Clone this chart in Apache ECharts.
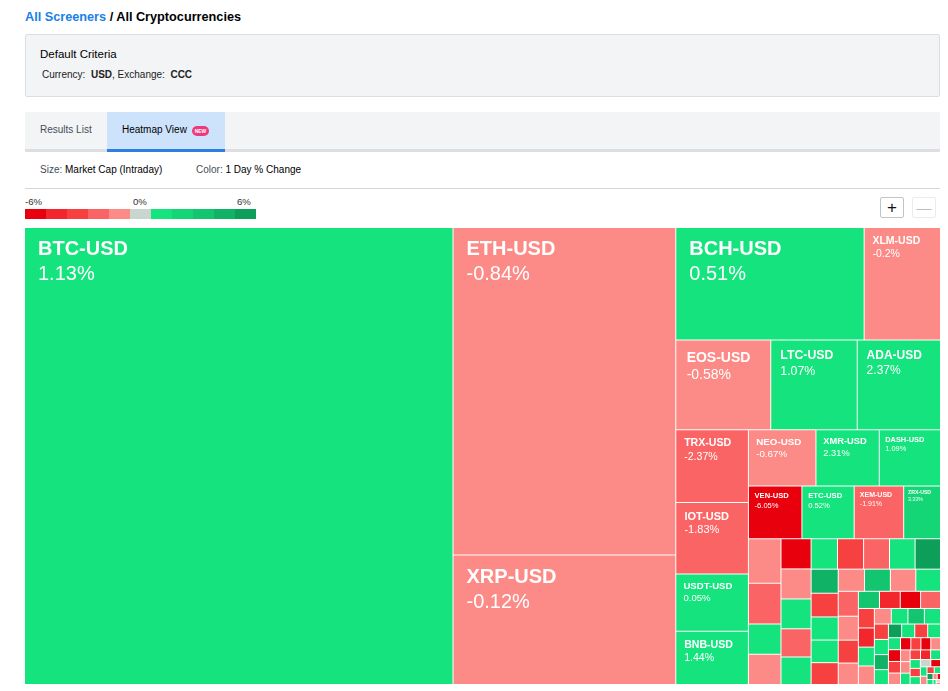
<!DOCTYPE html>
<html>
<head>
<meta charset="utf-8">
<script src="https://cdn.jsdelivr.net/npm/echarts@6/dist/echarts.min.js"></script>
<style>
  html, body { margin: 0; padding: 0; background: #fff; }
  body { width: 948px; height: 691px; position: relative; overflow: hidden;
         font-family: "Helvetica Neue", Helvetica, Arial, "Liberation Sans", sans-serif; color: #000; }
  .abs { position: absolute; white-space: nowrap; }
  #crumb { left: 25px; top: 10px; font-size: 12.7px; line-height: 15px; font-weight: bold; }
  #crumb .lnk { color: #1a7fe8; }
  #criteria { left: 25px; top: 34px; width: 915px; height: 63px; box-sizing: border-box;
              background: #f3f4f6; border: 1px solid #dcdee2; border-radius: 2px; }
  #critTitle { left: 40px; top: 47px; font-size: 11.5px; line-height: 14px; }
  #critLine { left: 42px; top: 69px; font-size: 10px; line-height: 12px; color: #222; }
  #tabs { left: 25px; top: 112px; width: 915px; height: 37px; background: #f3f4f6; }
  #tabLine { left: 25px; top: 149px; width: 915px; height: 3px; background: #dcdee3; }
  #tabActive { left: 107px; top: 112px; width: 118px; height: 37px; background: #cde3fb; }
  #tabActiveLine { left: 107px; top: 149px; width: 118px; height: 3px; background: #2f7fe0; }
  #tab1 { left: 40px; top: 124px; font-size: 10px; line-height: 12px; color: #464e56; }
  #tab2 { left: 122px; top: 124px; font-size: 10px; line-height: 12px; color: #000; }
  #badge { left: 192px; top: 126px; width: 17px; height: 10px; border-radius: 5px; background: #f0387e;
           color: #fff; font-size: 5px; font-weight: bold; line-height: 10px; text-align: center; }
  #sizeLbl { left: 40px; top: 164px; font-size: 10px; line-height: 12px; }
  #colorLbl { left: 196px; top: 164px; font-size: 10px; line-height: 12px; }
  .grey { color: #464e56; }
  #rule { left: 25px; top: 188px; width: 915px; height: 1px; background: #d6d6d6; }
  .tick { top: 196px; font-size: 9.6px; line-height: 11px; color: #333; }
  #bar { left: 25px; top: 209px; height: 10px; display: flex; }
  #bar div { width: 21px; height: 10px; }
  .btn { top: 197px; width: 24px; height: 21px; box-sizing: border-box; border-radius: 2px;
         text-align: center; line-height: 19px; }
  #plus { left: 880px; border: 1px solid #c4c4c4; font-size: 17px; color: #111; }
  #minus { left: 912px; border: 1px solid #ececec; font-size: 15px; color: #bdbdbd; }
  #chart { position: absolute; left: 25px; top: 228px; width: 915px; height: 456px; }
</style>
</head>
<body>
<div id="crumb" class="abs"><span class="lnk">All Screeners</span> / All Cryptocurrencies</div>
<div id="criteria" class="abs"></div>
<div id="critTitle" class="abs">Default Criteria</div>
<div id="critLine" class="abs">Currency:&nbsp; <b>USD</b>, Exchange:&nbsp; <b>CCC</b></div>
<div id="tabs" class="abs"></div>
<div id="tabLine" class="abs"></div>
<div id="tabActive" class="abs"></div>
<div id="tabActiveLine" class="abs"></div>
<div id="tab1" class="abs">Results List</div>
<div id="tab2" class="abs">Heatmap View</div>
<div id="badge" class="abs">NEW</div>
<div id="sizeLbl" class="abs"><span class="grey">Size:</span> Market Cap (Intraday)</div>
<div id="colorLbl" class="abs"><span class="grey">Color:</span> 1 Day % Change</div>
<div id="rule" class="abs"></div>
<div id="ticks"></div>
<div id="bar" class="abs"></div>
<div id="plus" class="abs btn">+</div>
<div id="minus" class="abs btn">&#8212;</div>
<div id="chart"></div>

<script>
// ---------------- data ----------------
const names = [
  "BTC-USD","ETH-USD","XRP-USD","BCH-USD","XLM-USD","EOS-USD","LTC-USD","ADA-USD",
  "TRX-USD","IOT-USD","USDT-USD","BNB-USD","NEO-USD","XMR-USD","DASH-USD",
  "VEN-USD","ETC-USD","XEM-USD","ZRX-USD",
  "QTUM-USD","OMG-USD","ICX-USD","LSK-USD",
  "ZEC-USD","BTG-USD","BTM-USD","ONT-USD","WAN-USD",
  "DCR-USD","BCN-USD","XVG-USD","SC-USD","STEEM-USD",
  "BTS-USD","NANO-USD","BCD-USD","PPT-USD","WAVES-USD",
  "DOGE-USD","STRAT-USD","SNT-USD","AE-USD",
  "MKR-USD","ZIL-USD","DGB-USD","KMD-USD",
  "ARDR-USD","GNT-USD","WTC-USD","REP-USD",
  "AION-USD","IOST-USD","ELF-USD","LRC-USD",
  "ARK-USD","PIVX-USD","DGD-USD","BAT-USD",
  "GAS-USD","KCS-USD","GXS-USD","SYS-USD",
  "FUN-USD","NAS-USD","ETN-USD","MONA-USD",
  "DRGN-USD","LOOM-USD","ELA-USD","NXT-USD",
  "POWR-USD","QASH-USD","ENG-USD","XZC-USD",
  "GTO-USD","FCT-USD","NEBL-USD",
  "SALT-USD","VERI-USD","CND-USD","KNC-USD","ICN-USD","GBYTE-USD","SUB-USD",
  "MANA-USD","RDD-USD","BNT-USD","STORM-USD","CVC-USD","NULS-USD","PAY-USD",
  "ZCL-USD","EMC-USD","BLOCK-USD","NXS-USD","VTC-USD","XP-USD","GNO-USD",
  "SMART-USD","ACT-USD","PART-USD","DENT-USD","SRN-USD"
];
// market capitalisation, USD millions
const marketCap = [
  194954, 72646, 28703, 21111, 8560, 8480, 7723, 7435,
  5256, 5169, 4133, 3857, 3780, 3545, 3427,
  2809, 2741, 2599, 1932,
  1446, 1316, 985, 980,
  905, 900, 895, 845, 825,
  800, 790, 785, 775, 770,
  650, 640, 625, 610, 590,
  580, 570, 560, 545,
  500, 480, 460, 430,
  360, 355, 348, 340,
  310, 305, 300, 295,
  262, 258, 255, 250,
  215, 212, 210, 208,
  180, 178, 176, 174,
  145, 142, 140, 138,
  125, 122, 120, 118,
  112, 110, 108,
  100, 98, 95, 90, 85, 80, 75, 70, 62, 55, 48, 42, 36, 30, 25, 20, 15, 12, 10, 8, 6, 5, 4, 3, 3, 2
];
// 1 day % change
const change = [
  1.13, -0.84, -0.12, 0.51, -0.2, -0.58, 1.07, 2.37,
  -2.37, -1.83, 0.05, 1.44, -0.67, 2.31, 1.09,
  -6.05, 0.52, -1.91, 3.33,
  -0.45, -1.62, 0.88, -0.31,
  -5.42, -0.73, 1.56, -1.95, 0.64,
  1.21, -2.94, -1.74, 0.37, 6.48,
  5.37, -3.05, 2.12, 0.93, -2.81,
  -0.96, 4.36, -0.52, 1.48,
  -1.47, -0.81, -2.77, -0.39,
  4.21, -4.12, -5.73, -1.58,
  -3.12, -4.35, 1.77, -0.62,
  -0.28, 0.71, 4.52, 2.04,
  -2.69, 1.35, 5.61, 0.46,
  6.92, 1.83, -2.88, 0.59,
  1.02, -5.96, -3.21, -0.87,
  -5.28, -2.73, -5.51, -0.69,
  -0.44, -0.93, 1.19,
  -3.02, -4.27, 0.82, 1.66, -2.91, 2.45, 0, -5.84, 0.33, -0.58, -3.33, 1.91, 6.15, 0.74, -0.36, -6.4, 1.28, 0, -0.77, -2.6, 0.95, -0.5, -4.6, 1.4, -0.21, 0
];
const legendTicks = ["-6%", "0%", "6%"];

// ---------------- styles ----------------
const colorSteps = ["#e8000d","#f3262d","#f74141","#fa6464","#fc8a86","#c8d6cf",
                    "#15e37e","#14d677","#12c56e","#10b265","#0d9e59"];
const tickLeft = [25, 133, 237];
const labelFont = {
  "BTC-USD": 20, "ETH-USD": 20, "XRP-USD": 20, "BCH-USD": 20,
  "XLM-USD": 10.5, "EOS-USD": 14, "LTC-USD": 12.3, "ADA-USD": 12,
  "TRX-USD": 10.6, "IOT-USD": 11, "USDT-USD": 9.6, "BNB-USD": 10.6,
  "NEO-USD": 9.8, "XMR-USD": 9.3, "DASH-USD": 7.4,
  "VEN-USD": 7.6, "ETC-USD": 7.7, "XEM-USD": 7, "ZRX-USD": 5.2
};
const FONT = '"Helvetica Neue", Helvetica, Arial, "Liberation Sans", sans-serif';

function colorFor(v) {
  if (v <= -5) return colorSteps[0];
  if (v <= -3.5) return colorSteps[1];
  if (v <= -2.5) return colorSteps[2];
  if (v <= -1) return colorSteps[3];
  if (v < 0) return colorSteps[4];
  if (v === 0) return colorSteps[5];
  if (v < 3) return colorSteps[6];
  if (v < 4) return colorSteps[7];
  if (v < 5) return colorSteps[8];
  if (v < 6) return colorSteps[9];
  return colorSteps[10];
}

// legend (html)
const bar = document.getElementById('bar');
colorSteps.forEach(c => { const d = document.createElement('div'); d.style.background = c; bar.appendChild(d); });
const ticks = document.getElementById('ticks');
legendTicks.forEach((t, i) => {
  const d = document.createElement('div');
  d.className = 'abs tick'; d.style.left = tickLeft[i] + 'px'; d.textContent = t;
  ticks.appendChild(d);
});

// ---------------- chart ----------------
const seriesData = names.map((n, i) => {
  const item = {
    name: n, value: marketCap[i], change: change[i],
    itemStyle: { color: colorFor(change[i]) }
  };
  const fs = labelFont[n];
  if (fs) {
    const lh = fs * 1.25;
    item.label = {
      show: true,
      position: 'insideTopLeft',
      distance: 0,
      padding: [Math.min(9, fs * 0.62), 0, 0, Math.min(13, fs * 0.74)],
      formatter: p => '{n|' + p.name + '}\n{p|' + p.data.change + '%}',
      rich: {
        n: { fontSize: fs, fontWeight: 'bold', color: '#fff', lineHeight: lh, fontFamily: FONT },
        p: { fontSize: fs, color: '#fff', lineHeight: lh, fontFamily: FONT }
      }
    };
  } else {
    item.label = { show: false };
  }
  return item;
});

const chart = echarts.init(document.getElementById('chart'), null, { renderer: 'canvas' });
chart.setOption({
  animation: false,
  tooltip: { show: false },
  series: [{
    type: 'treemap',
    left: 0, top: 0, width: '100%', height: '100%',
    roam: false,
    nodeClick: false,
    squareRatio: 1,
    sort: 'desc',
    breadcrumb: { show: false },
    label: { show: false },
    upperLabel: { show: false },
    itemStyle: { borderWidth: 0, gapWidth: 1, borderColor: '#fff' },
    levels: [{ itemStyle: { borderWidth: 0, gapWidth: 1, borderColor: '#fff' } }],
    emphasis: { disabled: true },
    data: seriesData
  }]
});
</script>
</body>
</html>
